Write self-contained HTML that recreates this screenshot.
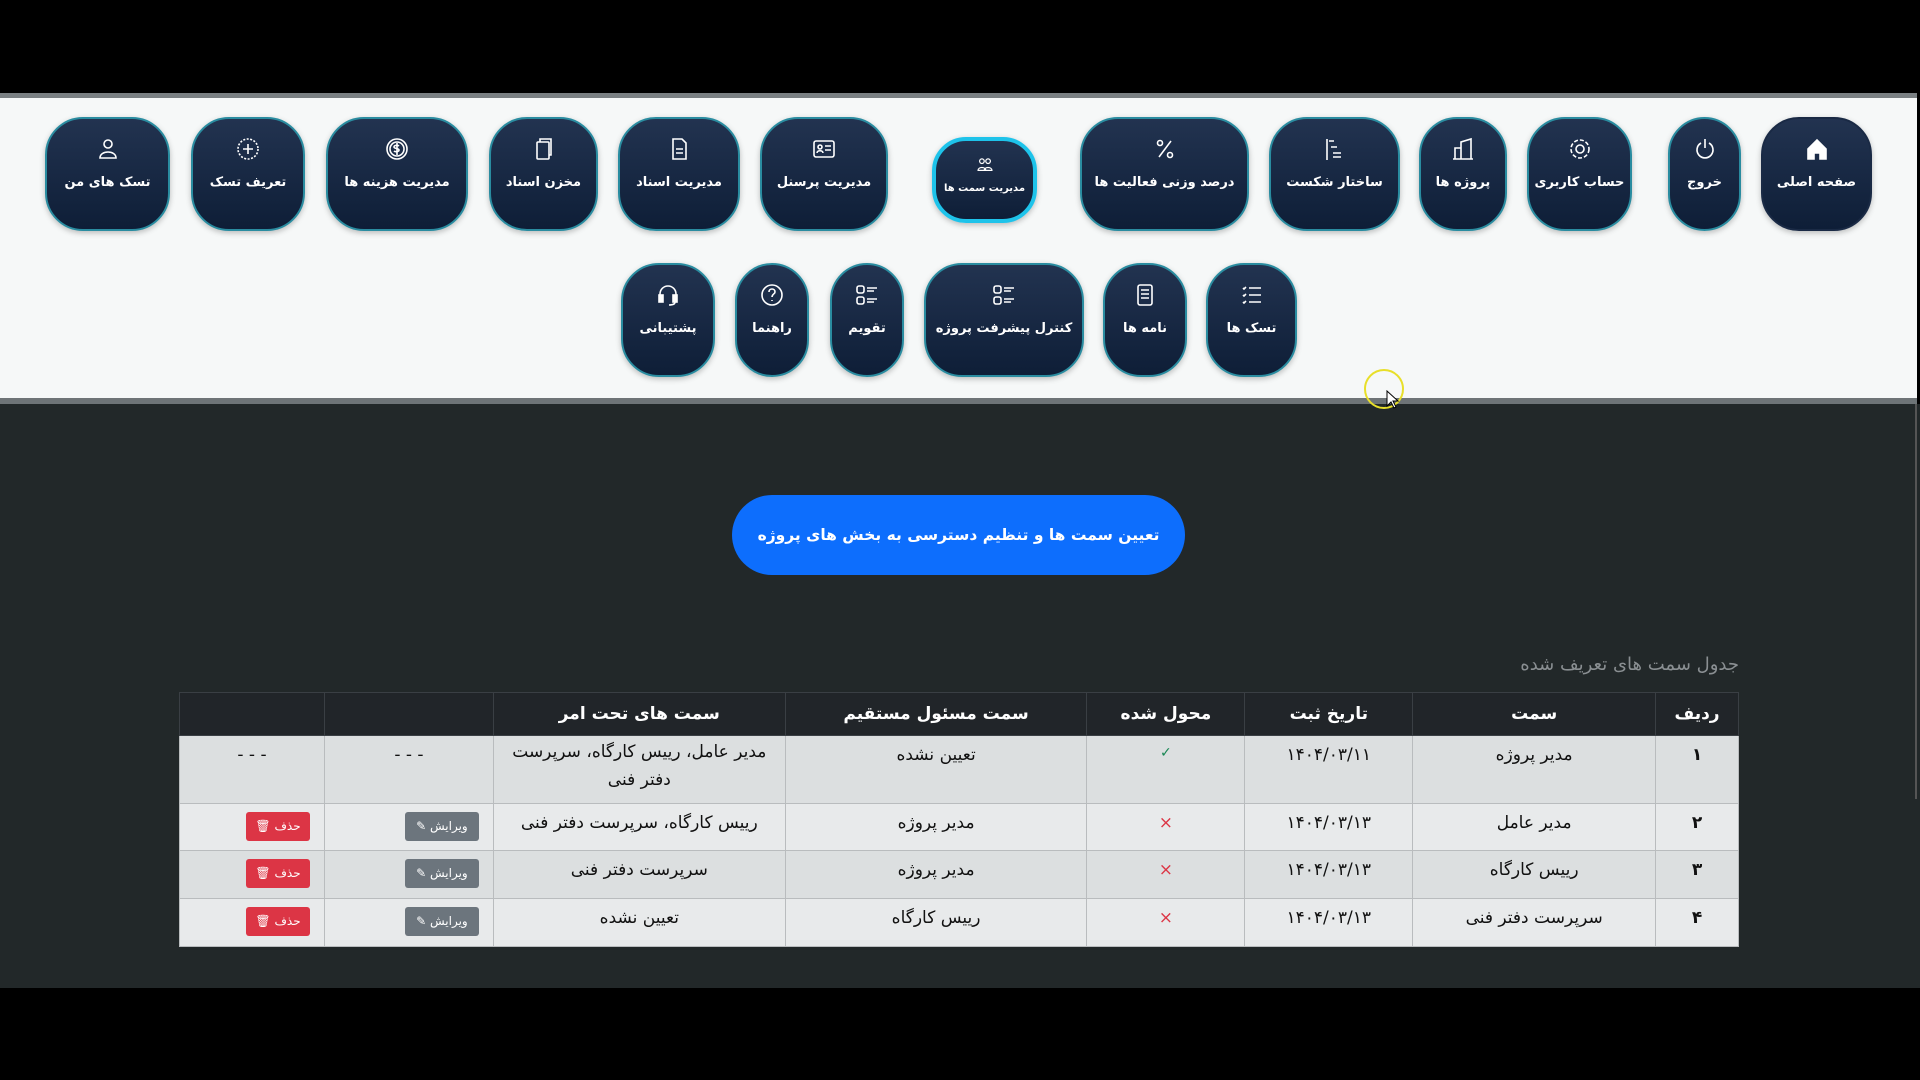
<!DOCTYPE html>
<html><head><meta charset="utf-8"><style>
body{margin:0;width:1920px;height:1080px;background:#000;position:relative;overflow:hidden;font-family:"DejaVu Sans","Liberation Sans",sans-serif;}
.abs{position:absolute}
.panel{left:0;width:1917px;height:300px;background:#f6f8f8;border-top:5px solid #7a8083;border-bottom:6px solid #6e7477;top:93px}
.dark{left:0;top:404px;width:1920px;height:584px;background:#222829}
.b{position:absolute;height:114px;border-radius:38px;background:linear-gradient(#223350,#0e1e37);border:2px solid #2a8ca0;box-shadow:0 2px 6px rgba(0,0,0,.25);color:#fff;text-align:center;box-sizing:border-box}
.b svg{position:absolute;left:50%;top:17px;margin-left:-13px;width:26px;height:26px;fill:none;stroke:#fff;stroke-width:1.6}
.b span{position:absolute;left:0;right:0;top:56px;font-size:13px;font-weight:bold;direction:rtl;white-space:nowrap}
.act{border:4px solid #1ec3ea;border-radius:34px;height:86px}
.act svg{top:14px;width:20px;height:20px;margin-left:-10px}
.act span{top:42px;font-size:10px}
.pill{left:732px;top:495px;width:453px;height:80px;border-radius:40px;background:#0d6efd;color:#fff;font-size:15.5px;font-weight:bold;text-align:center;line-height:80px;direction:rtl}
.cap{left:1400px;width:339px;top:654px;text-align:right;color:#8a8f92;font-size:18px;direction:rtl}
table{position:absolute;left:179px;top:692px;width:1560px;border-collapse:collapse;direction:rtl;font-size:17px;color:#111}
th{background:#212529;color:#fff;height:40px;font-size:17px;border:1px solid #3a3f44;font-weight:bold}
td{border:1px solid #b9bcbe;text-align:center;vertical-align:top;padding-top:9px;box-sizing:border-box}
tr.r1 td{background:#dcdfe0;height:68px}
tr.r2 td{background:#e8eaeb;height:47px}
tr.r3 td{background:#dcdfe0;height:48px}
tr.r4 td{background:#e8eaeb;height:48px}
td.bc{text-align:right;padding-right:14px;padding-top:8px}
.bt{display:inline-block;color:#fff;font-size:12px;height:29px;line-height:29px;border-radius:3px;text-align:center}
.ed{background:#6c757d;width:74px}
.dl{background:#dc3545;width:64px}
</style></head><body>
<div class="abs panel"></div>
<div class="abs dark"></div>
<div class="abs" style="left:1915px;top:404px;width:2px;height:395px;background:#555"></div>

<div class="b" style="left:1761px;top:117px;width:111px;border-color:#1a2a45"><svg viewBox="0 0 26 26"><path d="M4 13L13 4l9 9v10H16v-6h-6v6H4z" fill="#fff"/></svg><span>صفحه اصلی</span></div>
<div class="b" style="left:1668px;top:117px;width:73px"><svg viewBox="0 0 26 26"><path d="M9 7a8 8 0 1 0 8 0M13 3v9"/></svg><span>خروج</span></div>
<div class="b" style="left:1527px;top:117px;width:105px"><svg viewBox="0 0 26 26"><circle cx="13" cy="13" r="4"/><circle cx="13" cy="13" r="9" stroke-dasharray="4 2"/></svg><span>حساب کاربری</span></div>
<div class="b" style="left:1419px;top:117px;width:88px"><svg viewBox="0 0 26 26"><path d="M5 23V12h6V23M11 23V6l10-3v20M3 23h20"/></svg><span>پروژه ها</span></div>
<div class="b" style="left:1269px;top:117px;width:131px"><svg viewBox="0 0 26 26"><path d="M5 3v21M7 5h5M9 11h6M11 17h8M11 21h8"/></svg><span>ساختار شکست</span></div>
<div class="b" style="left:1080px;top:117px;width:169px"><svg viewBox="0 0 26 26"><path d="M19 5L7 21"/><circle cx="8" cy="7" r="2.5"/><circle cx="18" cy="19" r="2.5"/></svg><span>درصد وزنی فعالیت ها</span></div>
<div class="b act" style="left:932px;top:137px;width:105px"><svg viewBox="0 0 26 26"><circle cx="9" cy="8" r="3"/><circle cx="17" cy="8" r="3"/><path d="M4 20c0-5 10-5 10 0zM12 20c0-5 10-5 10 0z"/></svg><span>مدیریت سمت ها</span></div>
<div class="b" style="left:760px;top:117px;width:128px"><svg viewBox="0 0 26 26"><rect x="3" y="5" width="20" height="16" rx="2"/><circle cx="9" cy="11" r="2"/><path d="M6 17c0-3 6-3 6 0M14 10h6M14 14h6"/></svg><span>مدیریت پرسنل</span></div>
<div class="b" style="left:618px;top:117px;width:122px"><svg viewBox="0 0 26 26"><path d="M7 3h9l4 4v16H7zM10 13h7M10 17h7"/></svg><span>مدیریت اسناد</span></div>
<div class="b" style="left:489px;top:117px;width:109px"><svg viewBox="0 0 26 26"><rect x="6" y="6" width="12" height="17" rx="1"/><path d="M9 6V3h11v16h-2"/></svg><span>مخزن اسناد</span></div>
<div class="b" style="left:326px;top:117px;width:142px"><svg viewBox="0 0 26 26"><circle cx="13" cy="13" r="10"/><circle cx="13" cy="13" r="7"/><path d="M15 10c-1-1-5-1-5 1s5 1 5 3-4 2-5 1M13 7v12"/></svg><span>مدیریت هزینه ها</span></div>
<div class="b" style="left:191px;top:117px;width:114px"><svg viewBox="0 0 26 26"><circle cx="13" cy="13" r="10" stroke-dasharray="2 1.5"/><path d="M13 8v10M8 13h10"/></svg><span>تعریف تسک</span></div>
<div class="b" style="left:45px;top:117px;width:125px"><svg viewBox="0 0 26 26"><circle cx="13" cy="8" r="4"/><path d="M5 22c0-8 16-8 16 0z"/></svg><span>تسک های من</span></div>

<div class="b" style="left:1206px;top:263px;width:91px"><svg viewBox="0 0 26 26"><path d="M10 6h12M10 13h12M10 20h12M4 6l1 1 2-2M4 13l1 1 2-2M4 20l1 1 2-2"/></svg><span>تسک ها</span></div>
<div class="b" style="left:1103px;top:263px;width:84px"><svg viewBox="0 0 26 26"><rect x="6" y="3" width="14" height="20" rx="2"/><path d="M9 8h8M9 12h8M9 16h8"/></svg><span>نامه ها</span></div>
<div class="b" style="left:924px;top:263px;width:160px"><svg viewBox="0 0 26 26"><rect x="3" y="4" width="7" height="7" rx="2"/><rect x="3" y="15" width="7" height="7" rx="2"/><path d="M13 6h10M13 9h7M13 17h10M13 20h7"/></svg><span>کنترل پیشرفت پروژه</span></div>
<div class="b" style="left:830px;top:263px;width:74px"><svg viewBox="0 0 26 26"><rect x="3" y="4" width="7" height="7" rx="2"/><rect x="3" y="15" width="7" height="7" rx="2"/><path d="M13 6h10M13 9h7M13 17h10M13 20h7"/></svg><span>تقویم</span></div>
<div class="b" style="left:735px;top:263px;width:74px"><svg viewBox="0 0 26 26"><circle cx="13" cy="13" r="10"/><path d="M10 10c0-4 6-4 6 0 0 2-3 2-3 5M13 18v1"/></svg><span>راهنما</span></div>
<div class="b" style="left:621px;top:263px;width:94px"><svg viewBox="0 0 26 26"><path d="M5 16v-4a8 8 0 0 1 16 0v4"/><rect x="4" y="13" width="4" height="7" fill="#fff"/><rect x="18" y="13" width="4" height="7" fill="#fff"/><path d="M20 20c0 3-4 3-6 3"/></svg><span>پشتیبانی</span></div>

<div class="abs" style="left:1364px;top:369px;width:40px;height:40px;border-radius:50%;border:2px solid #e8df2a;box-sizing:border-box"></div>
<svg class="abs" style="left:1386px;top:390px" width="14" height="20" viewBox="0 0 14 20"><path d="M1 1v15l4-4 3 6 2-1-3-6h5z" fill="#fff" stroke="#000"/></svg>

<div class="abs pill">تعیین سمت ها و تنظیم دسترسی به بخش های پروژه</div>
<div class="abs cap">جدول سمت های تعریف شده</div>

<table>
<colgroup><col style="width:83px"><col style="width:243px"><col style="width:168px"><col style="width:158px"><col style="width:302px"><col style="width:292px"><col style="width:169px"><col style="width:145px"></colgroup>
<tr><th>ردیف</th><th>سمت</th><th>تاریخ ثبت</th><th>محول شده</th><th>سمت مسئول مستقیم</th><th>سمت های تحت امر</th><th></th><th></th></tr>
<tr class="r1"><td><b>۱</b></td><td>مدیر پروژه</td><td>۱۴۰۴/۰۳/۱۱</td><td style="color:#198754;font-size:14px">✓</td><td>تعیین نشده</td><td style="padding-left:10px;padding-right:10px;line-height:28px;padding-top:2px">مدیر عامل، رییس کارگاه، سرپرست دفتر فنی</td><td>- - -</td><td>- - -</td></tr>
<tr class="r2"><td><b>۲</b></td><td>مدیر عامل</td><td>۱۴۰۴/۰۳/۱۳</td><td style="color:#dc3545">×</td><td>مدیر پروژه</td><td>رییس کارگاه، سرپرست دفتر فنی</td><td class="bc"><span class="bt ed">ویرایش ✎</span></td><td class="bc"><span class="bt dl">حذف 🗑</span></td></tr>
<tr class="r3"><td><b>۳</b></td><td>رییس کارگاه</td><td>۱۴۰۴/۰۳/۱۳</td><td style="color:#dc3545">×</td><td>مدیر پروژه</td><td>سرپرست دفتر فنی</td><td class="bc"><span class="bt ed">ویرایش ✎</span></td><td class="bc"><span class="bt dl">حذف 🗑</span></td></tr>
<tr class="r4"><td><b>۴</b></td><td>سرپرست دفتر فنی</td><td>۱۴۰۴/۰۳/۱۳</td><td style="color:#dc3545">×</td><td>رییس کارگاه</td><td>تعیین نشده</td><td class="bc"><span class="bt ed">ویرایش ✎</span></td><td class="bc"><span class="bt dl">حذف 🗑</span></td></tr>
</table>
</body></html>
